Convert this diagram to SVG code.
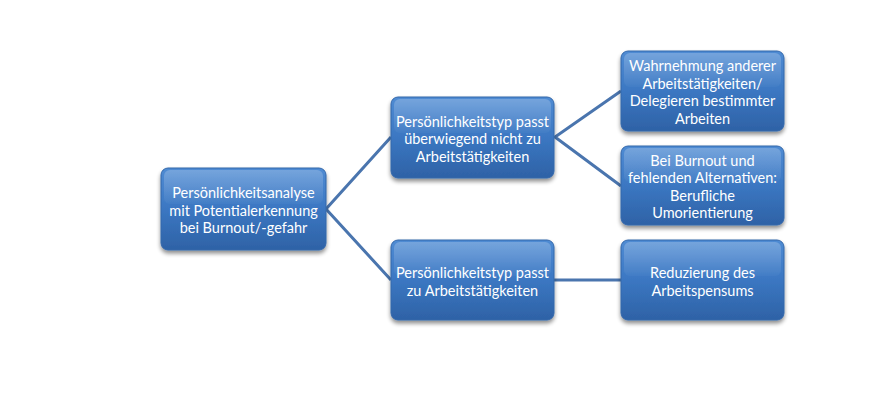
<svg xmlns="http://www.w3.org/2000/svg" width="890" height="406" viewBox="0 0 890 406">
<defs>
<linearGradient id="fill" x1="0" y1="0" x2="0" y2="1">
<stop offset="0" stop-color="#4f8bd3"/>
<stop offset="0.5" stop-color="#3b77c2"/>
<stop offset="1" stop-color="#2e62a6"/>
</linearGradient>
<linearGradient id="gloss" x1="0" y1="0" x2="0" y2="1">
<stop offset="0" stop-color="#ffffff" stop-opacity="0.22"/>
<stop offset="1" stop-color="#ffffff" stop-opacity="0.03"/>
</linearGradient>
<filter id="sh" x="-10%" y="-10%" width="120%" height="130%">
<feGaussianBlur in="SourceAlpha" stdDeviation="2"/>
<feOffset dy="3"/>
<feComponentTransfer><feFuncA type="linear" slope="0.45"/></feComponentTransfer>
<feMerge><feMergeNode/><feMergeNode in="SourceGraphic"/></feMerge>
</filter>
</defs>
<style>
.box{fill:url(#fill);stroke:#3468ab;stroke-width:1;filter:url(#sh)}
.gl{fill:url(#gloss)}
.t{font-family:Lato,"Liberation Sans",sans-serif;font-size:14.5px;fill:#ffffff;text-anchor:middle}
.c{stroke:#4a75ae;stroke-width:3;fill:none}
</style>
<rect width="890" height="406" fill="#ffffff"/>
<g id="connectors">
<polyline class="c" points="391,137 326,209 391,280"/>
<polyline class="c" points="621,91 555,137 621,186"/>
<line class="c" x1="554" y1="280" x2="621" y2="280"/>
</g>
<g id="root">
<rect class="box" x="161" y="168" width="165" height="82" rx="7"/>
<rect class="gl" x="164" y="170" width="159" height="34" rx="6"/>
<text class="t" x="243.5" y="198">Persönlichkeitsanalyse</text>
<text class="t" x="243.5" y="215.5">mit Potentialerkennung</text>
<text class="t" x="243.5" y="233">bei Burnout/-gefahr</text>
</g>
<g id="mid1">
<rect class="box" x="391" y="97" width="163" height="81" rx="7"/>
<rect class="gl" x="394" y="99" width="157" height="34" rx="6"/>
<text class="t" x="472.5" y="126.5">Persönlichkeitstyp passt</text>
<text class="t" x="472.5" y="144">überwiegend nicht zu</text>
<text class="t" x="472.5" y="161.5">Arbeitstätigkeiten</text>
</g>
<g id="mid2">
<rect class="box" x="391" y="240" width="163" height="80" rx="7"/>
<rect class="gl" x="394" y="242" width="157" height="34" rx="6"/>
<text class="t" x="472.5" y="278">Persönlichkeitstyp passt</text>
<text class="t" x="472.5" y="295.5">zu Arbeitstätigkeiten</text>
</g>
<g id="leaf1">
<rect class="box" x="621" y="51" width="163" height="80" rx="7"/>
<rect class="gl" x="624" y="53" width="157" height="34" rx="6"/>
<text class="t" x="702.5" y="71">Wahrnehmung anderer</text>
<text class="t" x="702.5" y="88.5">Arbeitstätigkeiten/</text>
<text class="t" x="702.5" y="106">Delegieren bestimmter</text>
<text class="t" x="702.5" y="123.5">Arbeiten</text>
</g>
<g id="leaf2">
<rect class="box" x="621" y="146" width="163" height="79" rx="7"/>
<rect class="gl" x="624" y="148" width="157" height="34" rx="6"/>
<text class="t" x="702.5" y="165.5">Bei Burnout und</text>
<text class="t" x="702.5" y="183">fehlenden Alternativen:</text>
<text class="t" x="702.5" y="200.5">Berufliche</text>
<text class="t" x="702.5" y="218">Umorientierung</text>
</g>
<g id="leaf3">
<rect class="box" x="621" y="240" width="163" height="80" rx="7"/>
<rect class="gl" x="624" y="242" width="157" height="34" rx="6"/>
<text class="t" x="702.5" y="278">Reduzierung des</text>
<text class="t" x="702.5" y="295.5">Arbeitspensums</text>
</g>
</svg>
